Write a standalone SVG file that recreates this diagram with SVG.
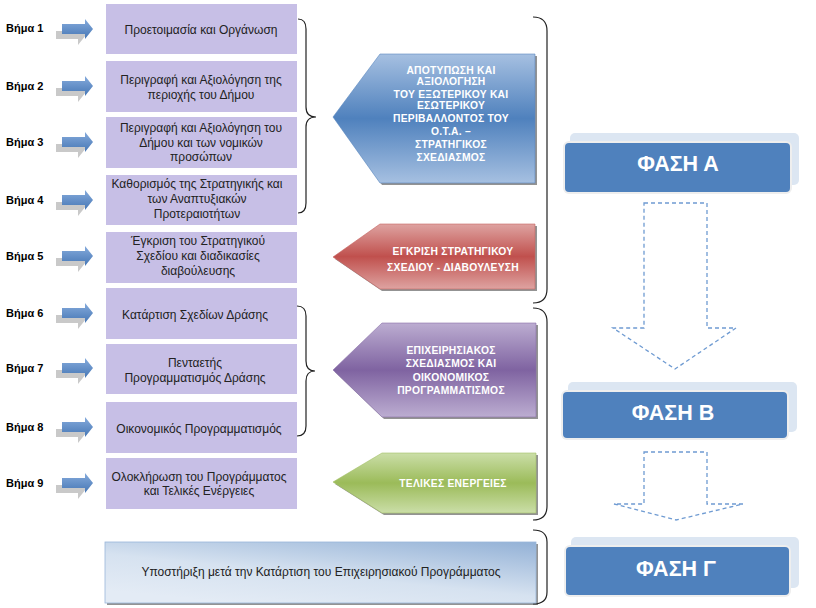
<svg xmlns="http://www.w3.org/2000/svg" width="816" height="608" viewBox="0 0 816 608">
<defs>
<linearGradient id="gBlue" x1="0" y1="0" x2="0" y2="1"><stop offset="0" stop-color="#a6c0e1"/><stop offset="0.5" stop-color="#4f81bd"/><stop offset="1" stop-color="#a6c0e1"/></linearGradient>
<linearGradient id="gRed" x1="0" y1="0" x2="0" y2="1"><stop offset="0" stop-color="#dea3a1"/><stop offset="0.5" stop-color="#c0504d"/><stop offset="1" stop-color="#dea3a1"/></linearGradient>
<linearGradient id="gPurple" x1="0" y1="0" x2="0" y2="1"><stop offset="0" stop-color="#bcadd1"/><stop offset="0.5" stop-color="#7f63a1"/><stop offset="1" stop-color="#bcadd1"/></linearGradient>
<linearGradient id="gGreen" x1="0" y1="0" x2="0" y2="1"><stop offset="0" stop-color="#cbdea8"/><stop offset="0.5" stop-color="#9bbb59"/><stop offset="1" stop-color="#cbdea8"/></linearGradient>
<linearGradient id="gStep" x1="0" y1="0" x2="0" y2="1"><stop offset="0" stop-color="#86abdc"/><stop offset="1" stop-color="#4677b5"/></linearGradient>
<linearGradient id="gSupport" x1="1" y1="0" x2="0.3" y2="1"><stop offset="0" stop-color="#93b1d6"/><stop offset="0.6" stop-color="#d6e2f0"/><stop offset="1" stop-color="#e3ebf5"/></linearGradient>
<g id="stepArrow">
<path d="M56,2 H78 V-4 L86,6 L78,16 V10 H56 Z" fill="#c9c9c9"/>
<path d="M62,-5 H85 V-10 L93,0 L85,10 V5 H62 Z" fill="url(#gStep)"/>
</g>
</defs>
<style>
.lbl{font-family:"Liberation Sans",Arial,sans-serif;font-size:11px;font-weight:bold;fill:#000}
.box{fill:#c7bfe6}
.bt{font-family:"Liberation Sans",Arial,sans-serif;font-size:12px;fill:#222;text-anchor:middle}
.pt{font-family:"Liberation Sans",Arial,sans-serif;font-size:10.3px;font-weight:bold;fill:#fff;text-anchor:middle;letter-spacing:0.25px}
.ph{font-family:"Liberation Sans",Arial,sans-serif;font-size:21.5px;font-weight:bold;fill:#fff;text-anchor:middle}
.brace{fill:none;stroke:#222;stroke-width:1.2}
.dash{fill:none;stroke:#6f9bd2;stroke-width:1.3;stroke-dasharray:4 3}
.shd{fill:#3a3a3a;opacity:0.55}
</style>
<rect width="816" height="608" fill="#fff"/>

<g id="steps">
<g id="step1"><text class="lbl" x="6" y="32">Βήμα 1</text><use href="#stepArrow" y="29"/><rect class="box" x="106" y="4" width="191" height="50"/><text class="bt" x="201" y="34">Προετοιμασία και Οργάνωση</text></g>
<g id="step2"><text class="lbl" x="6" y="90">Βήμα 2</text><use href="#stepArrow" y="86"/><rect class="box" x="106" y="61" width="191" height="51"/><text class="bt" x="201" y="84">Περιγραφή και Αξιολόγηση της</text><text class="bt" x="201" y="99">περιοχής του Δήμου</text></g>
<g id="step3"><text class="lbl" x="6" y="146">Βήμα 3</text><use href="#stepArrow" y="142"/><rect class="box" x="106" y="117" width="191" height="51"/><text class="bt" x="201" y="132">Περιγραφή και Αξιολόγηση του</text><text class="bt" x="201" y="146.5">Δήμου και των νομικών</text><text class="bt" x="201" y="161">προσώπων</text></g>
<g id="step4"><text class="lbl" x="6" y="204">Βήμα 4</text><use href="#stepArrow" y="200"/><rect class="box" x="106" y="175" width="191" height="50"/><text class="bt" x="197" y="188">Καθορισμός της Στρατηγικής και</text><text class="bt" x="197" y="203">των Αναπτυξιακών</text><text class="bt" x="197" y="218">Προτεραιοτήτων</text></g>
<g id="step5"><text class="lbl" x="6" y="260">Βήμα 5</text><use href="#stepArrow" y="256"/><rect class="box" x="106" y="232" width="191" height="51"/><text class="bt" x="198" y="245">Έγκριση του Στρατηγικού</text><text class="bt" x="198" y="260">Σχεδίου και διαδικασίες</text><text class="bt" x="198" y="275">διαβούλευσης</text></g>
<g id="step6"><text class="lbl" x="6" y="317">Βήμα 6</text><use href="#stepArrow" y="313"/><rect class="box" x="106" y="288" width="191" height="51"/><text class="bt" x="195" y="319">Κατάρτιση Σχεδίων Δράσης</text></g>
<g id="step7"><text class="lbl" x="6" y="372">Βήμα 7</text><use href="#stepArrow" y="368"/><rect class="box" x="106" y="344" width="191" height="50"/><text class="bt" x="195" y="367">Πενταετής</text><text class="bt" x="195" y="382">Προγραμματισμός Δράσης</text></g>
<g id="step8"><text class="lbl" x="6" y="431">Βήμα 8</text><use href="#stepArrow" y="427"/><rect class="box" x="106" y="402" width="191" height="51"/><text class="bt" x="199" y="433">Οικονομικός Προγραμματισμός</text></g>
<g id="step9"><text class="lbl" x="6" y="487">Βήμα 9</text><use href="#stepArrow" y="483"/><rect class="box" x="106" y="458" width="191" height="51"/><text class="bt" x="199" y="481">Ολοκλήρωση του Προγράμματος</text><text class="bt" x="199" y="495">και Τελικές Ενέργειες</text></g>
</g>

<g id="connectors">
<path class="brace" d="M298,19 Q306,19 306,29 L306,107 Q306,117 316,117 Q306,117 306,127 L306,203 Q306,213 298,213"/>
<path class="brace" d="M297,306 Q306,306 306,316 L306,361 Q306,371 315,371 Q306,371 306,381 L306,426 Q306,436 297,436"/>
<path class="brace" d="M533,17 Q547,17 547,31 L547,289 Q547,303 533,303"/>
<path class="brace" d="M533,308 Q547,308 547,322 L547,506 Q547,520 533,520"/>
<path class="brace" d="M533,530 Q547,530 547,542 L547,592 Q547,604 533,604"/>
<path class="dash" d="M644,203 H707 V328 H736 L675,369 L613,328 H644 Z"/>
<path class="dash" d="M644,452 H707 V504 H743 L676,520 L614,504 H644 Z"/>
</g>

<g id="stageA">
<polygon class="shd" points="382,56 537,56 537,185 382,185 335,119"/>
<polygon points="380,54 535,54 535,183 380,183 333,117" fill="url(#gBlue)" stroke="#5a88c0" stroke-width="0.6"/>
<text class="pt" x="451" y="73.5">ΑΠΟΤΥΠΩΣΗ ΚΑΙ</text>
<text class="pt" x="451" y="84.5">ΑΞΙΟΛΟΓΗΣΗ</text>
<text class="pt" x="451" y="97.5">ΤΟΥ ΕΞΩΤΕΡΙΚΟΥ ΚΑΙ</text>
<text class="pt" x="451" y="108.5">ΕΣΩΤΕΡΙΚΟΥ</text>
<text class="pt" x="451" y="121.5">ΠΕΡΙΒΑΛΛΟΝΤΟΣ ΤΟΥ</text>
<text class="pt" x="451" y="135">Ο.Τ.Α. –</text>
<text class="pt" x="451" y="147.5">ΣΤΡΑΤΗΓΙΚΟΣ</text>
<text class="pt" x="451" y="160.5">ΣΧΕΔΙΑΣΜΟΣ</text>
</g>

<g id="stageApproval">
<polygon class="shd" points="382,226 537,226 537,291 382,291 335,259"/>
<polygon points="380,224 535,224 535,289 380,289 333,257" fill="url(#gRed)" stroke="#c66562" stroke-width="0.6"/>
<text class="pt" x="453" y="254.5">ΕΓΚΡΙΣΗ ΣΤΡΑΤΗΓΙΚΟΥ</text>
<text class="pt" x="453" y="270.5">ΣΧΕΔΙΟΥ - ΔΙΑΒΟΥΛΕΥΣΗ</text>
</g>

<g id="stageOperational">
<polygon class="shd" points="384,325 538,325 538,419 384,419 335,372"/>
<polygon points="382,323 536,323 536,417 382,417 333,370" fill="url(#gPurple)" stroke="#8a70aa" stroke-width="0.6"/>
<text class="pt" x="451" y="353.5">ΕΠΙΧΕΙΡΗΣΙΑΚΟΣ</text>
<text class="pt" x="451" y="367">ΣΧΕΔΙΑΣΜΟΣ ΚΑΙ</text>
<text class="pt" x="451" y="380.5">ΟΙΚΟΝΟΜΙΚΟΣ</text>
<text class="pt" x="451" y="394">ΠΡΟΓΡΑΜΜΑΤΙΣΜΟΣ</text>
</g>

<g id="stageFinal">
<polygon class="shd" points="384,455 538,455 538,515 384,515 335,484"/>
<polygon points="382,453 536,453 536,513 382,513 333,482" fill="url(#gGreen)" stroke="#a3c064" stroke-width="0.6"/>
<text class="pt" x="453" y="486.5">ΤΕΛΙΚΕΣ ΕΝΕΡΓΕΙΕΣ</text>
</g>

<g id="support">
<rect class="shd" x="107" y="544" width="431" height="61"/>
<rect x="105" y="542" width="431" height="61" fill="url(#gSupport)" stroke="#9ab6d9" stroke-width="0.8"/>
<text class="bt" x="321" y="576">Υποστήριξη μετά την Κατάρτιση του Επιχειρησιακού Προγράμματος</text>
</g>

<g id="phaseA">
<rect x="570" y="133" width="229" height="52" rx="5" fill="#dce6f2"/>
<rect x="563" y="141" width="229" height="53" rx="6" fill="#eeeeee"/>
<rect x="565" y="143" width="225" height="49" rx="4" fill="#4f81bd"/>
<text class="ph" x="678" y="170.5">ΦΑΣΗ Α</text>
</g>
<g id="phaseB">
<rect x="568" y="382" width="229" height="50" rx="5" fill="#dce6f2"/>
<rect x="561" y="390" width="228" height="50" rx="6" fill="#eeeeee"/>
<rect x="563" y="392" width="224" height="46" rx="4" fill="#4f81bd"/>
<text class="ph" x="673" y="419.5">ΦΑΣΗ Β</text>
</g>
<g id="phaseC">
<rect x="571" y="537" width="228" height="51" rx="5" fill="#dce6f2"/>
<rect x="564" y="545" width="227" height="52" rx="6" fill="#eeeeee"/>
<rect x="566" y="547" width="223" height="48" rx="4" fill="#4f81bd"/>
<text class="ph" x="676" y="575.5">ΦΑΣΗ Γ</text>
</g>
</svg>
